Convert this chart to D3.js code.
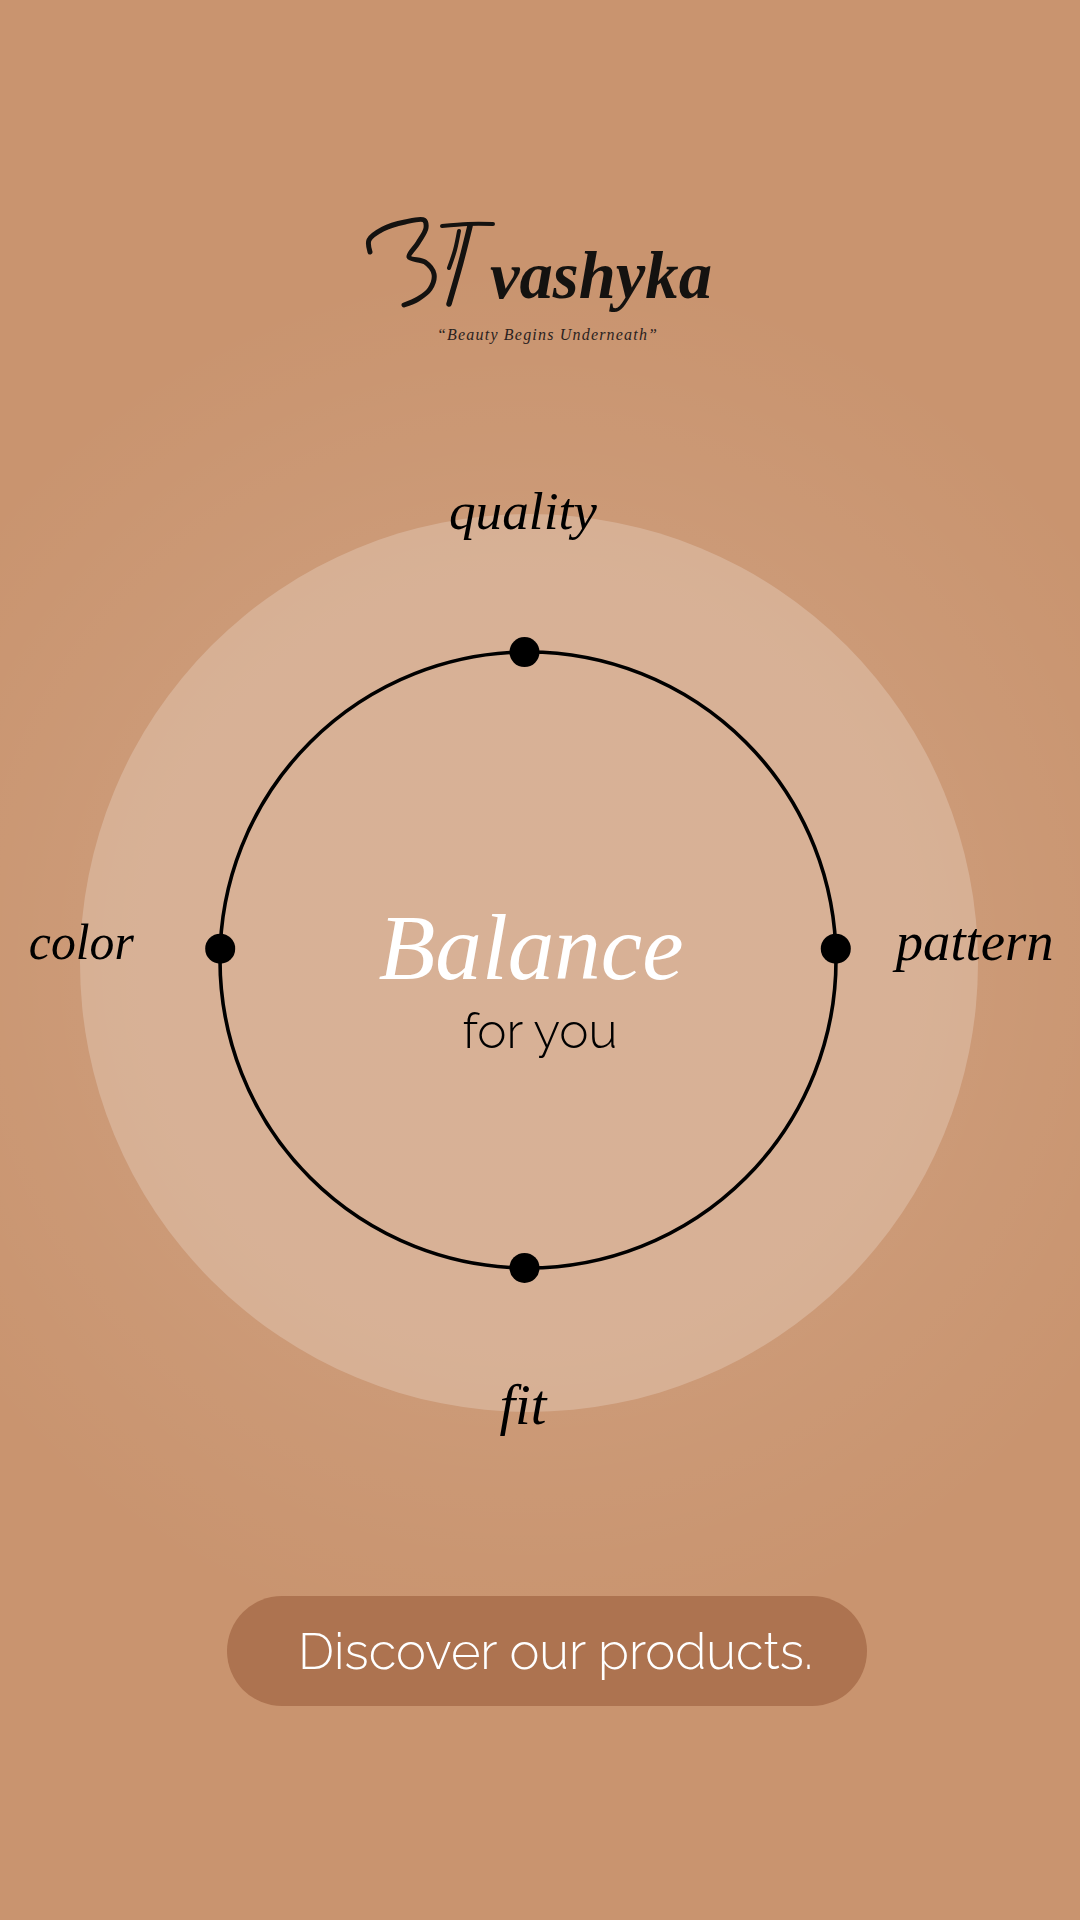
<!DOCTYPE html>
<html>
<head>
<meta charset="utf-8">
<script src="https://cdn.jsdelivr.net/npm/d3@7"></script>
<style>
  html, body { margin:0; padding:0; background:#c9946f; }
  svg { display:block; }
</style>
</head>
<body>
<svg id="chart" width="1080" height="1920"></svg>
<script>
// ---- data ----
const categories = ["quality", "pattern", "fit", "color"];
const angles = [-0.65, 87.9, 180.65, 272.1]; // degrees clockwise from top
const brandName = "vashyka";
const tagline = "\u201CBeauty Begins Underneath\u201D";
const centerTitle = "Balance";
const centerSub = "for you";
const buttonLabel = "Discover our products.";

// ---- layout ----
const W = 1080, H = 1920;
const cx = 528, cy = 960;
const svg = d3.select("#chart");
const serif = "'Liberation Serif', 'DejaVu Serif', serif";
const sans = "Raleway, Lato, 'Open Sans', sans-serif";

// helper: fit text to a target width
function fitWidth(sel, target) {
  const node = sel.node();
  const fs = parseFloat(sel.attr("font-size"));
  const w = node.getComputedTextLength();
  if (w > 0) sel.attr("font-size", fs * target / w);
  return sel;
}

// background
const defs = svg.append("defs");
const glow = defs.append("radialGradient").attr("id", "glow")
  .attr("cx", cx).attr("cy", cy).attr("r", 700).attr("gradientUnits", "userSpaceOnUse");
glow.append("stop").attr("offset", "0.55").attr("stop-color", "#fff").attr("stop-opacity", 0.07);
glow.append("stop").attr("offset", "1").attr("stop-color", "#fff").attr("stop-opacity", 0);
svg.append("rect").attr("width", W).attr("height", H).attr("fill", "#c9946f");
svg.append("rect").attr("width", W).attr("height", H).attr("fill", "url(#glow)");

// scales
const rad = d3.scaleLinear().domain([0, 360]).range([0, 2 * Math.PI]);
const rRing = 308, rOuter = 447;
const pos = (deg, r) => [cx + r * Math.sin(rad(deg)), cy - r * Math.cos(rad(deg))];

// outer light disc
svg.append("circle").attr("cx", cx + 1).attr("cy", cy + 3).attr("r", rOuter + 2)
  .attr("fill", "#ffffff").attr("fill-opacity", 0.22);

// ring
svg.append("circle").attr("cx", cx).attr("cy", cy).attr("r", rRing)
  .attr("fill", "none").attr("stroke", "#000").attr("stroke-width", 3.6);

// dots
svg.selectAll("circle.dot").data(categories).join("circle")
  .attr("class", "dot")
  .attr("cx", (d, i) => pos(angles[i], rRing)[0])
  .attr("cy", (d, i) => pos(angles[i], rRing)[1])
  .attr("r", 15).attr("fill", "#000");

// labels
const labelWidths = { quality: 148, pattern: 158, fit: 47, color: 105 };
svg.selectAll("text.lbl").data(categories).join("text")
  .attr("class", "lbl")
  .attr("x", (d, i) => pos(angles[i], rOuter)[0])
  .attr("y", (d, i) => pos(angles[i], rOuter)[1])
  .attr("dy", "0.30em")
  .attr("text-anchor", "middle")
  .attr("font-family", serif).attr("font-style", "italic")
  .attr("font-size", 54).attr("fill", "#000")
  .text(d => d)
  .each(function(d) { fitWidth(d3.select(this), labelWidths[d]); });

// center text
fitWidth(svg.append("text").attr("x", cx + 3).attr("y", 979).attr("text-anchor", "middle")
  .attr("font-family", serif).attr("font-style", "italic").attr("font-size", 92)
  .attr("fill", "#fff").text(centerTitle), 305);
fitWidth(svg.append("text").attr("x", 540).attr("y", 1048).attr("text-anchor", "middle")
  .attr("font-family", sans).attr("font-weight", 300).attr("font-size", 48)
  .attr("fill", "#000").text(centerSub), 155);

// logo mark
const logo = svg.append("g").attr("fill", "none").attr("stroke", "#141210")
  .attr("stroke-linecap", "round").attr("stroke-linejoin", "round");
const line = d3.line().curve(d3.curveCatmullRom.alpha(0.5));
logo.append("path").attr("stroke-width", 5).attr("d", line([
  [370, 252], [369, 240], [383, 229], [405, 222], [424, 220], [426, 228],
  [418, 243], [409, 257], [425, 262], [434, 274], [430, 289], [418, 299], [404, 305]
]));
logo.append("path").attr("stroke-width", 4).attr("d", line([[442, 226], [468, 224], [493, 224]]));
logo.append("path").attr("stroke-width", 5.5).attr("d", line([[470, 226], [461, 262], [449, 304]]));
logo.append("path").attr("stroke-width", 4).attr("d", line([[459, 231], [455, 250], [449, 268]]));

fitWidth(svg.append("text").attr("x", 490).attr("y", 298).attr("text-anchor", "start")
  .attr("font-family", serif).attr("font-style", "italic").attr("font-weight", "bold")
  .attr("font-size", 60).attr("fill", "#141210").text(brandName), 222);

svg.append("text").attr("x", 547).attr("y", 340).attr("text-anchor", "middle")
  .attr("font-family", serif).attr("font-style", "italic").attr("font-size", 16)
  .attr("fill", "#2a2220").attr("textLength", 220).attr("lengthAdjust", "spacing")
  .text(tagline);

// button
const bx = 227, by = 1596, bw = 640, bh = 110;
svg.append("rect").attr("x", bx).attr("y", by).attr("width", bw).attr("height", bh)
  .attr("rx", bh / 2).attr("ry", bh / 2).attr("fill", "#ad7350");
fitWidth(svg.append("text").attr("x", 555.5).attr("y", 1669).attr("text-anchor", "middle")
  .attr("font-family", sans).attr("font-weight", 300).attr("font-size", 50)
  .attr("fill", "#fff").text(buttonLabel), 515);
</script>
</body>
</html>
